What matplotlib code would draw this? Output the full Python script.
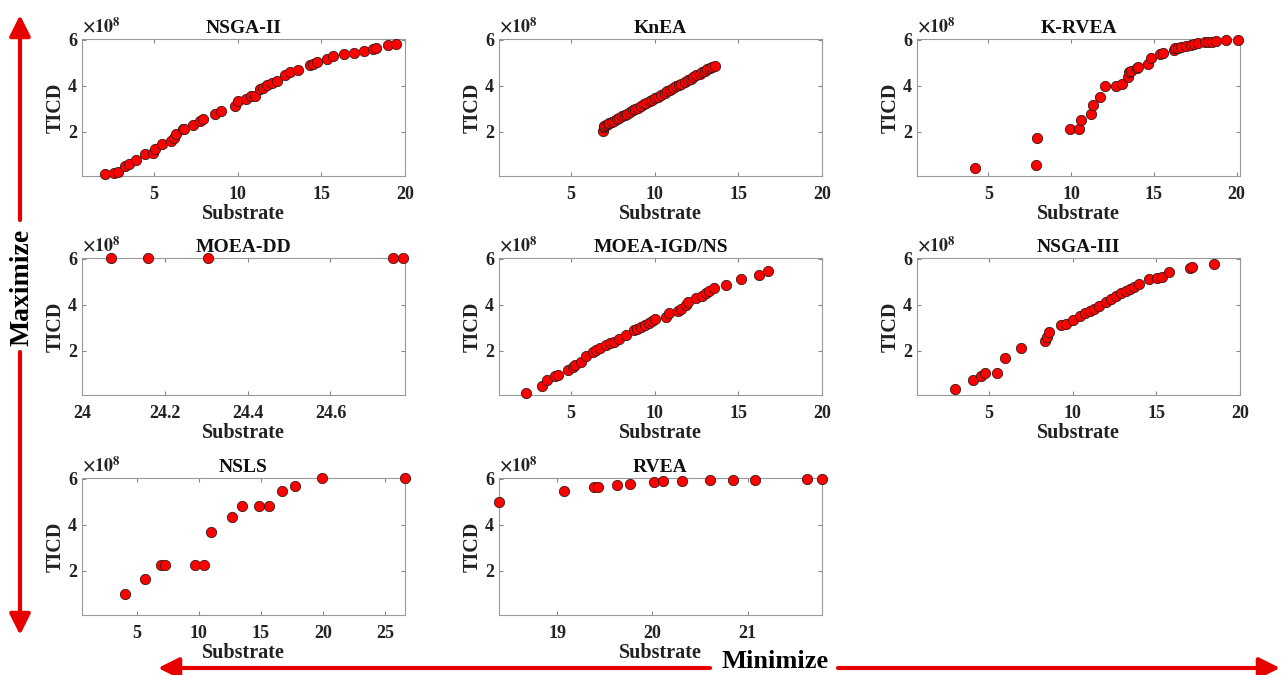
import matplotlib
matplotlib.use('Agg')
import matplotlib.pyplot as plt

plt.rcParams['font.family'] = ['Liberation Serif', 'DejaVu Serif']
plt.rcParams['font.weight'] = 'bold'
plt.rcParams['mathtext.fontset'] = 'stix'

# TICD values are in units of 1e8
titles = ['NSGA-II', 'KnEA', 'K-RVEA', 'MOEA-DD', 'MOEA-IGD/NS', 'NSGA-III', 'NSLS', 'RVEA']

nsga2_x = [2.10, 2.63, 2.85, 3.29, 3.53, 3.93, 4.44, 4.94, 5.04, 5.48, 6.03, 6.17, 6.31, 6.73,
           6.79, 7.33, 7.77, 7.92, 8.66, 9.00, 9.85, 10.01, 10.49, 10.79, 11.05, 11.35, 11.54,
           11.76, 12.08, 12.34, 12.84, 13.14, 13.59, 14.33, 14.53, 14.77, 15.32, 15.72, 16.38,
           16.96, 17.57, 18.07, 18.27, 18.96, 19.46]
nsga2_y = [0.17, 0.19, 0.25, 0.53, 0.60, 0.77, 1.02, 1.09, 1.26, 1.47, 1.61, 1.75, 1.90, 2.10,
           2.13, 2.29, 2.48, 2.55, 2.79, 2.90, 3.13, 3.34, 3.44, 3.55, 3.55, 3.85, 3.92,
           4.02, 4.12, 4.21, 4.47, 4.58, 4.69, 4.92, 4.96, 5.03, 5.18, 5.28, 5.39,
           5.44, 5.49, 5.58, 5.64, 5.75, 5.83]

knea_x = [6.90, 6.95, 7.00, 7.10, 7.20, 7.30, 7.45, 7.60, 7.75, 7.90, 8.05, 8.20, 8.35, 8.55,
          8.70, 8.85, 9.00, 9.20, 9.35, 9.50, 9.70, 9.85, 10.00, 10.20, 10.40, 10.60, 10.75,
          10.90, 11.10, 11.30, 11.45, 11.60, 11.80, 12.00, 12.15, 12.30, 12.50, 12.70, 12.85,
          13.00, 13.15, 13.30, 13.45, 13.60]
knea_y = [2.05, 2.22, 2.26, 2.30, 2.33, 2.37, 2.43, 2.49, 2.55, 2.61, 2.67, 2.73, 2.79, 2.87,
          2.93, 2.99, 3.05, 3.13, 3.19, 3.25, 3.33, 3.39, 3.45, 3.53, 3.61, 3.69, 3.75,
          3.81, 3.89, 3.97, 4.03, 4.09, 4.17, 4.25, 4.31, 4.37, 4.45, 4.53, 4.59,
          4.65, 4.71, 4.77, 4.83, 4.87]

krvea_x = [4.20, 7.86, 7.92, 9.96, 10.50, 10.60, 11.18, 11.32, 11.72, 12.02, 12.72, 13.10,
           13.42, 13.52, 13.60, 13.96, 14.06, 14.66, 14.80, 15.36, 15.56, 16.20, 16.26, 16.46,
           16.66, 16.96, 17.22, 17.42, 17.66, 18.06, 18.26, 18.52, 18.78, 19.36, 20.10]
krvea_y = [0.42, 0.56, 1.73, 2.12, 2.14, 2.52, 2.76, 3.17, 3.50, 3.97, 3.97, 4.09,
           4.37, 4.58, 4.62, 4.78, 4.82, 4.95, 5.21, 5.38, 5.42, 5.55, 5.63, 5.64,
           5.70, 5.74, 5.78, 5.81, 5.84, 5.88, 5.90, 5.91, 5.94, 5.97, 6.00]

moeadd_x = [24.07, 24.16, 24.305, 24.75, 24.775]
moeadd_y = [6.03, 6.03, 6.03, 6.03, 6.03]

igd_x = [2.29, 3.28, 3.58, 4.02, 4.22, 4.82, 5.12, 5.24, 5.58, 5.92, 6.32, 6.48, 6.72, 7.08,
         7.34, 7.58, 7.87, 8.27, 8.77, 8.93, 9.17, 9.43, 9.67, 9.87, 10.03, 10.67, 10.87,
         11.37, 11.57, 11.87, 11.97, 12.47, 12.83, 13.07, 13.27, 13.57, 14.27, 15.16, 16.26, 16.76]
igd_y = [0.17, 0.47, 0.71, 0.89, 0.97, 1.17, 1.29, 1.39, 1.53, 1.76, 1.93, 2.03, 2.10, 2.26,
         2.36, 2.40, 2.53, 2.67, 2.89, 2.96, 3.04, 3.14, 3.21, 3.29, 3.39, 3.46, 3.64,
         3.71, 3.81, 4.00, 4.14, 4.29, 4.39, 4.50, 4.61, 4.74, 4.86, 5.11, 5.29, 5.46]

nsga3_x = [3.00, 4.06, 4.50, 4.76, 5.46, 5.96, 6.90, 8.36, 8.46, 8.60, 9.30, 9.60, 10.02,
           10.46, 10.72, 11.02, 11.30, 11.60, 12.02, 12.30, 12.60, 12.90, 13.16, 13.40, 13.66,
           13.96, 14.56, 15.06, 15.36, 15.76, 17.02, 17.16, 18.42]
nsga3_y = [0.33, 0.75, 0.89, 1.02, 1.05, 1.70, 2.12, 2.42, 2.59, 2.81, 3.14, 3.17, 3.35,
           3.51, 3.63, 3.74, 3.81, 3.94, 4.13, 4.24, 4.36, 4.49, 4.58, 4.68, 4.79,
           4.88, 5.11, 5.15, 5.21, 5.44, 5.58, 5.64, 5.76]

nsls_x = [4.09, 5.70, 6.93, 7.27, 9.71, 10.40, 11.02, 12.68, 13.49, 14.83, 15.66, 16.73,
          17.78, 19.92, 26.57]
nsls_y = [1.00, 1.66, 2.26, 2.26, 2.26, 2.26, 3.67, 4.33, 4.80, 4.83, 4.83, 5.46,
          5.67, 6.03, 6.03]

rvea_x = [18.39, 19.07, 19.39, 19.43, 19.63, 19.76, 20.02, 20.11, 20.31, 20.60, 20.85,
          21.08, 21.62, 21.78]
rvea_y = [4.97, 5.46, 5.64, 5.66, 5.74, 5.76, 5.87, 5.89, 5.91, 5.93, 5.94,
          5.96, 6.00, 6.00]

series = [(nsga2_x, nsga2_y), (knea_x, knea_y), (krvea_x, krvea_y), (moeadd_x, moeadd_y),
          (igd_x, igd_y), (nsga3_x, nsga3_y), (nsls_x, nsls_y), (rvea_x, rvea_y)]
xlims = [(0.7, 20), (0.7, 20), (0.7, 20.2), (24.0, 24.78), (0.7, 20), (0.7, 20),
         (0.6, 26.6), (18.39, 21.78)]
xticks = [[5, 10, 15, 20], [5, 10, 15, 20], [5, 10, 15, 20], [24, 24.2, 24.4, 24.6],
          [5, 10, 15, 20], [5, 10, 15, 20], [5, 10, 15, 20, 25], [19, 20, 21]]
xticklabels = [['5', '10', '15', '20']] * 3 + [['24', '24.2', '24.4', '24.6']] + \
              [['5', '10', '15', '20']] * 2 + [['5', '10', '15', '20', '25'], ['19', '20', '21']]

W, H = 1281, 675
fig = plt.figure(figsize=(W / 100, H / 100), dpi=100)

col_left = [82, 499, 917]
row_top = [39, 258, 478]
ax_w, ax_h = 323, 137

for i, (x, y) in enumerate(series):
    r, c = divmod(i, 3)
    ax = fig.add_axes([col_left[c] / W, 1 - (row_top[r] + ax_h) / H, ax_w / W, ax_h / H])
    ax.scatter(x, y, s=55, color='#ff0000', edgecolors='#3a1a1a', linewidths=0.6,
               clip_on=False, zorder=3)
    ax.set_xlim(*xlims[i])
    ax.set_ylim(0.08, 6.03)
    ax.set_xticks(xticks[i])
    ax.set_xticklabels(xticklabels[i])
    ax.set_yticks([2, 4, 6])
    ax.set_yticklabels(['2', '4', '6'])
    ax.tick_params(direction='in', length=3, width=0.8, color='#888888', labelsize=13,
                   labelcolor='#222222', top=True, right=True)
    ax.tick_params(axis='x', pad=7)
    ax.tick_params(axis='y', pad=3.5)
    for sp in ax.spines.values():
        sp.set_color('#999999')
        sp.set_linewidth(0.8)
    ax.set_title(titles[i], fontsize=14, fontweight='bold', pad=4, color='#111111')
    ax.set_xlabel('Substrate', fontsize=14.5, fontweight='bold', labelpad=1, color='#222222')
    ax.set_ylabel('TICD', fontsize=14.5, fontweight='bold', labelpad=2, color='#222222')
    ax.text(0.0, 1.045, r'$\times10^{8}$', transform=ax.transAxes, fontsize=13,
            ha='left', va='baseline', color='#222222')

# overlay for the red direction arrows
ov = fig.add_axes([0, 0, 1, 1], zorder=-1)
ov.set_xlim(0, W)
ov.set_ylim(H, 0)
ov.axis('off')
red = '#e60000'
aprops = dict(arrowstyle='-|>,head_length=0.9,head_width=0.45', color=red, lw=3,
              mutation_scale=14, shrinkA=0, shrinkB=0)
ov.annotate('', xy=(20, 15), xytext=(20, 220), arrowprops=aprops)
ov.annotate('', xy=(20, 635), xytext=(20, 352), arrowprops=aprops)
ov.annotate('', xy=(158, 668), xytext=(710, 668), arrowprops=aprops)
ov.annotate('', xy=(1280, 668), xytext=(838, 668), arrowprops=aprops)
ov.text(22, 287, 'Maximize', rotation=90, ha='center', va='center', fontsize=20,
        fontweight='bold', color='black')
ov.text(775, 661, 'Minimize', ha='center', va='center', fontsize=19,
        fontweight='bold', color='black')

fig.savefig('out.png', dpi=100)
